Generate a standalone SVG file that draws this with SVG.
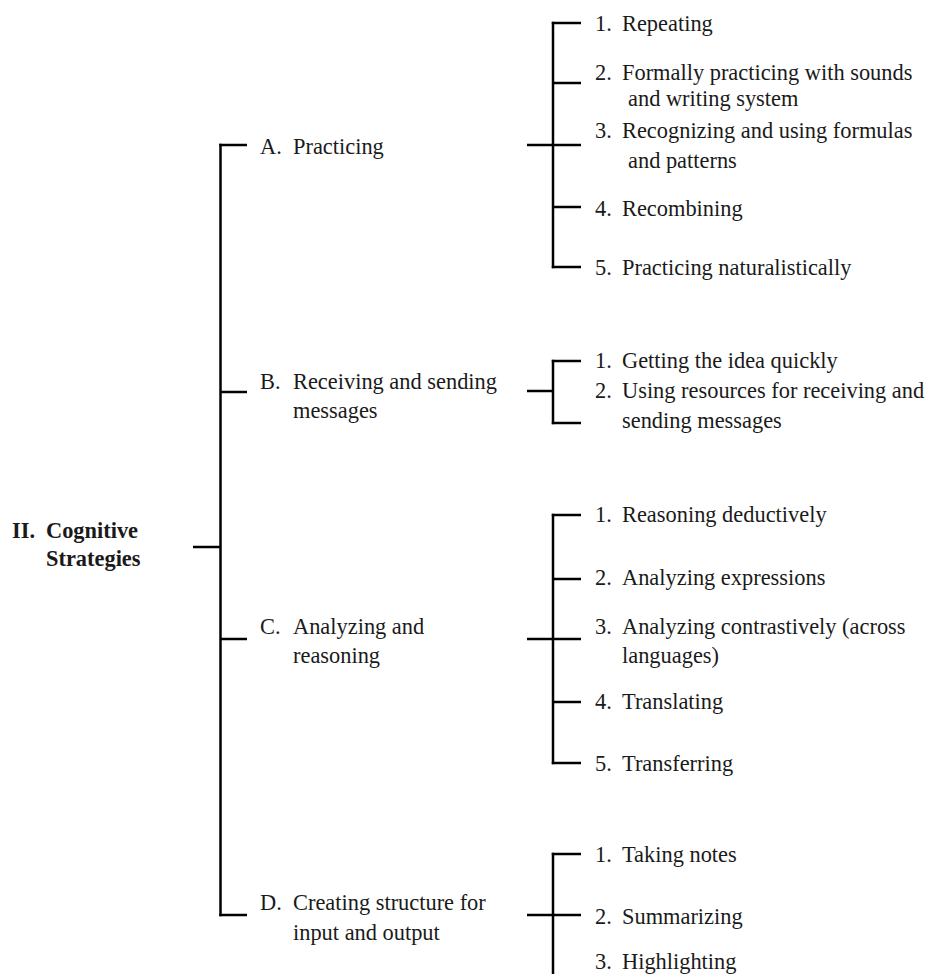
<svg xmlns="http://www.w3.org/2000/svg" width="929" height="974" viewBox="0 0 929 974">
<style>
text{font-family:"Liberation Serif","Times New Roman",serif;font-size:22.4px;fill:#1a1a1a}
.b{font-weight:bold}
.c line{stroke:#000;stroke-width:2.5;stroke-linecap:butt}
</style>
<rect width="929" height="974" fill="#fff"/>
<g class="c" id="connectors">
<line x1="193" y1="547" x2="221" y2="547"/>
<line x1="220.5" y1="143.8" x2="220.5" y2="916.2"/>
<line x1="219.3" y1="145" x2="247" y2="145"/>
<line x1="220" y1="392" x2="247" y2="392"/>
<line x1="220" y1="639" x2="247" y2="639"/>
<line x1="219.3" y1="915" x2="247" y2="915"/>
<line x1="527" y1="145" x2="553" y2="145"/>
<line x1="553" y1="21.8" x2="553" y2="268.2"/>
<line x1="551.8" y1="23" x2="581" y2="23"/>
<line x1="553" y1="83" x2="581" y2="83"/>
<line x1="553" y1="145" x2="581" y2="145"/>
<line x1="553" y1="207" x2="581" y2="207"/>
<line x1="551.8" y1="267" x2="581" y2="267"/>
<line x1="527" y1="391" x2="553" y2="391"/>
<line x1="553" y1="359.8" x2="553" y2="424.2"/>
<line x1="551.8" y1="361" x2="581" y2="361"/>
<line x1="551.8" y1="423" x2="581" y2="423"/>
<line x1="527" y1="639" x2="553" y2="639"/>
<line x1="553" y1="513.8" x2="553" y2="764.2"/>
<line x1="551.8" y1="515" x2="581" y2="515"/>
<line x1="553" y1="579" x2="581" y2="579"/>
<line x1="553" y1="639" x2="581" y2="639"/>
<line x1="553" y1="702" x2="581" y2="702"/>
<line x1="551.8" y1="763" x2="581" y2="763"/>
<line x1="527" y1="915" x2="553" y2="915"/>
<line x1="553" y1="852.8" x2="553" y2="974"/>
<line x1="551.8" y1="854" x2="581" y2="854"/>
<line x1="553" y1="915" x2="581" y2="915"/>
</g>
<g id="root"><text class="b" y="538"><tspan x="12">II.</tspan><tspan x="46">Cognitive</tspan></text><text class="b" x="46" y="566">Strategies</text></g>
<g id="nA"><text y="154"><tspan x="260">A.</tspan><tspan x="293">Practicing</tspan></text></g>
<g id="nB"><text y="389"><tspan x="260">B.</tspan><tspan x="293">Receiving and sending</tspan></text><text x="293" y="418">messages</text></g>
<g id="nC"><text y="634"><tspan x="260">C.</tspan><tspan x="293">Analyzing and</tspan></text><text x="293" y="663">reasoning</text></g>
<g id="nD"><text y="910"><tspan x="260">D.</tspan><tspan x="293">Creating structure for</tspan></text><text x="293" y="940">input and output</text></g>
<g id="nA1"><text y="31"><tspan x="595">1.</tspan><tspan x="622">Repeating</tspan></text></g>
<g id="nA2"><text y="80"><tspan x="595">2.</tspan><tspan x="622">Formally practicing with sounds</tspan></text><text x="628" y="106">and writing system</text></g>
<g id="nA3"><text y="138"><tspan x="595">3.</tspan><tspan x="622">Recognizing and using formulas</tspan></text><text x="628" y="168">and patterns</text></g>
<g id="nA4"><text y="216"><tspan x="595">4.</tspan><tspan x="622">Recombining</tspan></text></g>
<g id="nA5"><text y="275"><tspan x="595">5.</tspan><tspan x="622">Practicing naturalistically</tspan></text></g>
<g id="nB1"><text y="368"><tspan x="595">1.</tspan><tspan x="622">Getting the idea quickly</tspan></text></g>
<g id="nB2"><text y="398"><tspan x="595">2.</tspan><tspan x="622">Using resources for receiving and</tspan></text><text x="622" y="428">sending messages</text></g>
<g id="nC1"><text y="522"><tspan x="595">1.</tspan><tspan x="622">Reasoning deductively</tspan></text></g>
<g id="nC2"><text y="585"><tspan x="595">2.</tspan><tspan x="622">Analyzing expressions</tspan></text></g>
<g id="nC3"><text y="634"><tspan x="595">3.</tspan><tspan x="622">Analyzing contrastively (across</tspan></text><text x="622" y="663">languages)</text></g>
<g id="nC4"><text y="709"><tspan x="595">4.</tspan><tspan x="622">Translating</tspan></text></g>
<g id="nC5"><text y="771"><tspan x="595">5.</tspan><tspan x="622">Transferring</tspan></text></g>
<g id="nD1"><text y="862"><tspan x="595">1.</tspan><tspan x="622">Taking notes</tspan></text></g>
<g id="nD2"><text y="924"><tspan x="595">2.</tspan><tspan x="622">Summarizing</tspan></text></g>
<g id="nD3"><text y="969"><tspan x="595">3.</tspan><tspan x="622">Highlighting</tspan></text></g>
</svg>
